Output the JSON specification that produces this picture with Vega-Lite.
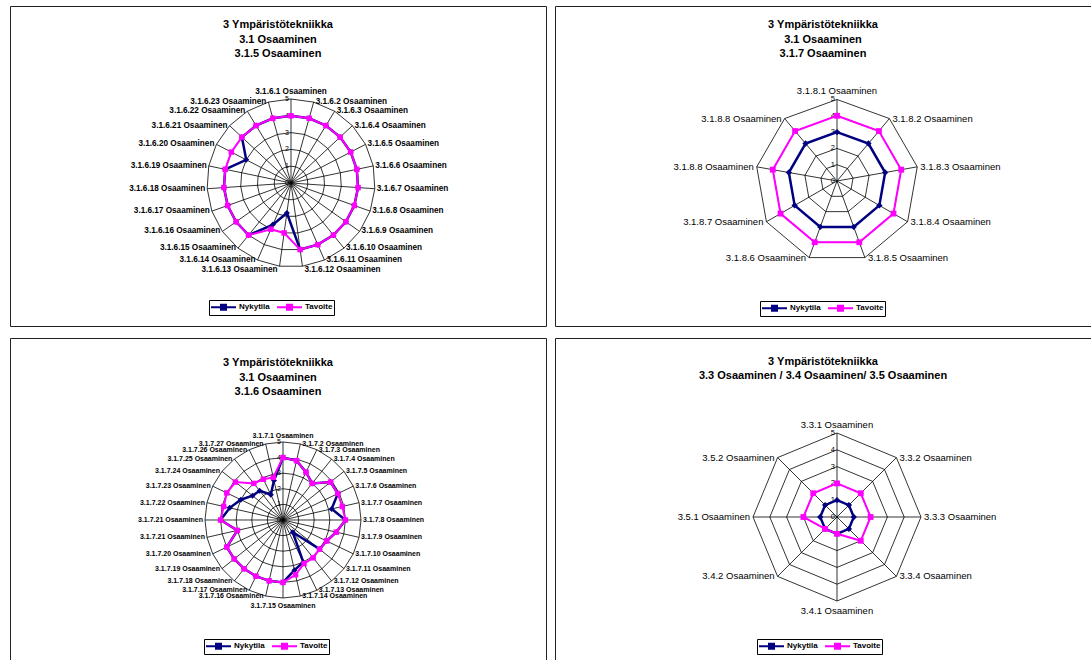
{
"$schema": "https://vega.github.io/schema/vega-lite/v6.json",
"background": "white",
"padding": {"left": 9, "top": 5, "right": 0, "bottom": 0},
"config": {
  "view": {"stroke": "#222", "strokeWidth": 1},
  "font": "Liberation Sans",
  "title": {"fontSize": 11, "fontWeight": "bold", "font": "Liberation Sans", "lineHeight": 14.5, "anchor": "middle", "frame": "group", "color": "black"},
  "legend": {"direction": "horizontal", "strokeColor": "black", "padding": 1, "symbolType": "M-1,0H4M1,-0.5H2V0.5H1Z", "symbolSize": 100, "symbolStrokeWidth": 2, "labelFontSize": 8, "labelFont": "Liberation Sans", "labelFontWeight": "bold", "labelColor": "black", "labelOffset": 17, "columnPadding": 3}
},
"datasets": {
  "g": [
    {"p": 1, "lv": [0,1,2,3,4,5], "i": [0,1,2,3,4,5,6,7,8,9,10,11,12,13,14,15,16,17,18,19,20,21,22]},
    {"p": 2, "lv": [0,1,2,3,4,5], "i": [0,1,2,3,4,5,6,7,8]},
    {"p": 3, "lv": [0,1,2,3,4,5], "i": [0,1,2,3,4,5,6,7,8,9,10,11,12,13,14,15,16,17,18,19,20,21,22,23,24,25,26,27]},
    {"p": 4, "lv": [0,1,2,3,4,5], "i": [0,1,2,3,4,5,6,7]}
  ],
  "r": [
    {"p":1,"i":0,"c":"3.1.6.1 Osaaminen","Nykytila":4,"Tavoite":4},
    {"p":1,"i":1,"c":"3.1.6.2 Osaaminen","Nykytila":4,"Tavoite":4},
    {"p":1,"i":2,"c":"3.1.6.3 Osaaminen","Nykytila":4,"Tavoite":4},
    {"p":1,"i":3,"c":"3.1.6.4 Osaaminen","Nykytila":4,"Tavoite":4},
    {"p":1,"i":4,"c":"3.1.6.5 Osaaminen","Nykytila":4,"Tavoite":4},
    {"p":1,"i":5,"c":"3.1.6.6 Osaaminen","Nykytila":4,"Tavoite":4},
    {"p":1,"i":6,"c":"3.1.6.7 Osaaminen","Nykytila":4,"Tavoite":4},
    {"p":1,"i":7,"c":"3.1.6.8 Osaaminen","Nykytila":4,"Tavoite":4},
    {"p":1,"i":8,"c":"3.1.6.9 Osaaminen","Nykytila":4,"Tavoite":4},
    {"p":1,"i":9,"c":"3.1.6.10 Osaaminen","Nykytila":4,"Tavoite":4},
    {"p":1,"i":10,"c":"3.1.6.11 Osaaminen","Nykytila":4,"Tavoite":4},
    {"p":1,"i":11,"c":"3.1.6.12 Osaaminen","Nykytila":4,"Tavoite":4},
    {"p":1,"i":12,"c":"3.1.6.13 Osaaminen","Nykytila":1.8,"Tavoite":3},
    {"p":1,"i":13,"c":"3.1.6.14 Osaaminen","Nykytila":2.7,"Tavoite":3},
    {"p":1,"i":14,"c":"3.1.6.15 Osaaminen","Nykytila":4,"Tavoite":4},
    {"p":1,"i":15,"c":"3.1.6.16 Osaaminen","Nykytila":4,"Tavoite":4},
    {"p":1,"i":16,"c":"3.1.6.17 Osaaminen","Nykytila":4,"Tavoite":4},
    {"p":1,"i":17,"c":"3.1.6.18 Osaaminen","Nykytila":4,"Tavoite":4},
    {"p":1,"i":18,"c":"3.1.6.19 Osaaminen","Nykytila":4,"Tavoite":4},
    {"p":1,"i":19,"c":"3.1.6.20 Osaaminen","Nykytila":3,"Tavoite":4},
    {"p":1,"i":20,"c":"3.1.6.21 Osaaminen","Nykytila":4,"Tavoite":4},
    {"p":1,"i":21,"c":"3.1.6.22 Osaaminen","Nykytila":4,"Tavoite":4},
    {"p":1,"i":22,"c":"3.1.6.23 Osaaminen","Nykytila":4,"Tavoite":4},
    {"p":2,"i":0,"c":"3.1.8.1 Osaaminen","Nykytila":3,"Tavoite":4},
    {"p":2,"i":1,"c":"3.1.8.2 Osaaminen","Nykytila":3,"Tavoite":4},
    {"p":2,"i":2,"c":"3.1.8.3 Osaaminen","Nykytila":3,"Tavoite":4},
    {"p":2,"i":3,"c":"3.1.8.4 Osaaminen","Nykytila":3,"Tavoite":4},
    {"p":2,"i":4,"c":"3.1.8.5 Osaaminen","Nykytila":3,"Tavoite":4},
    {"p":2,"i":5,"c":"3.1.8.6 Osaaminen","Nykytila":3,"Tavoite":4},
    {"p":2,"i":6,"c":"3.1.8.7 Osaaminen","Nykytila":3,"Tavoite":4},
    {"p":2,"i":7,"c":"3.1.8.8 Osaaminen","Nykytila":3,"Tavoite":4},
    {"p":2,"i":8,"c":"3.1.8.8 Osaaminen","Nykytila":3,"Tavoite":4},
    {"p":3,"i":0,"c":"3.1.7.1 Osaaminen","Nykytila":4,"Tavoite":4},
    {"p":3,"i":1,"c":"3.1.7.2 Osaaminen","Nykytila":3.9,"Tavoite":3.9},
    {"p":3,"i":2,"c":"3.1.7.3 Osaaminen","Nykytila":3.4,"Tavoite":3.4},
    {"p":3,"i":3,"c":"3.1.7.4 Osaaminen","Nykytila":3.0,"Tavoite":3.0},
    {"p":3,"i":4,"c":"3.1.7.5 Osaaminen","Nykytila":3.9,"Tavoite":3.9},
    {"p":3,"i":5,"c":"3.1.7.6 Osaaminen","Nykytila":3.9,"Tavoite":3.9},
    {"p":3,"i":6,"c":"3.1.7.7 Osaaminen","Nykytila":3.2,"Tavoite":3.9},
    {"p":3,"i":7,"c":"3.1.7.8 Osaaminen","Nykytila":4,"Tavoite":4},
    {"p":3,"i":8,"c":"3.1.7.9 Osaaminen","Nykytila":3.5,"Tavoite":3.5},
    {"p":3,"i":9,"c":"3.1.7.10 Osaaminen","Nykytila":3.1,"Tavoite":3.1},
    {"p":3,"i":10,"c":"3.1.7.11 Osaaminen","Nykytila":3.0,"Tavoite":3.0},
    {"p":3,"i":11,"c":"3.1.7.12 Osaaminen","Nykytila":1.0,"Tavoite":3.1},
    {"p":3,"i":12,"c":"3.1.7.13 Osaaminen","Nykytila":3.0,"Tavoite":3.1},
    {"p":3,"i":13,"c":"3.1.7.14 Osaaminen","Nykytila":3.3,"Tavoite":3.6},
    {"p":3,"i":14,"c":"3.1.7.15 Osaaminen","Nykytila":4,"Tavoite":4},
    {"p":3,"i":15,"c":"3.1.7.16 Osaaminen","Nykytila":4,"Tavoite":4},
    {"p":3,"i":16,"c":"3.1.7.17 Osaaminen","Nykytila":4,"Tavoite":4},
    {"p":3,"i":17,"c":"3.1.7.18 Osaaminen","Nykytila":4,"Tavoite":4},
    {"p":3,"i":18,"c":"3.1.7.19 Osaaminen","Nykytila":4,"Tavoite":4},
    {"p":3,"i":19,"c":"3.1.7.20 Osaaminen","Nykytila":4,"Tavoite":4},
    {"p":3,"i":20,"c":"3.1.7.21 Osaaminen","Nykytila":3.0,"Tavoite":3.0},
    {"p":3,"i":21,"c":"3.1.7.21 Osaaminen","Nykytila":4,"Tavoite":4},
    {"p":3,"i":22,"c":"3.1.7.22 Osaaminen","Nykytila":3.5,"Tavoite":3.9},
    {"p":3,"i":23,"c":"3.1.7.23 Osaaminen","Nykytila":3.0,"Tavoite":4},
    {"p":3,"i":24,"c":"3.1.7.24 Osaaminen","Nykytila":2.5,"Tavoite":3.9},
    {"p":3,"i":25,"c":"3.1.7.25 Osaaminen","Nykytila":2.4,"Tavoite":3.0},
    {"p":3,"i":26,"c":"3.1.7.26 Osaaminen","Nykytila":1.8,"Tavoite":2.9},
    {"p":3,"i":27,"c":"3.1.7.27 Osaaminen","Nykytila":2.6,"Tavoite":2.8},
    {"p":4,"i":0,"c":"3.3.1 Osaaminen","Nykytila":1,"Tavoite":2},
    {"p":4,"i":1,"c":"3.3.2 Osaaminen","Nykytila":1,"Tavoite":2},
    {"p":4,"i":2,"c":"3.3.3 Osaaminen","Nykytila":1,"Tavoite":2},
    {"p":4,"i":3,"c":"3.3.4 Osaaminen","Nykytila":1,"Tavoite":2},
    {"p":4,"i":4,"c":"3.4.1 Osaaminen","Nykytila":1,"Tavoite":1},
    {"p":4,"i":5,"c":"3.4.2 Osaaminen","Nykytila":1,"Tavoite":1},
    {"p":4,"i":6,"c":"3.5.1 Osaaminen","Nykytila":1,"Tavoite":2},
    {"p":4,"i":7,"c":"3.5.2 Osaaminen","Nykytila":1,"Tavoite":2}
  ]
},
"columns": 2,
"spacing": {"row": 10, "column": 7},
"resolve": {"scale": {"x": "independent", "y": "independent", "color": "independent"}, "legend": {"color": "independent"}},
"concat": [
{
 "width": 536, "height": 320,
 "title": {"text": ["3 Ympäristötekniikka", "3.1 Osaaminen", "3.1.5 Osaaminen"], "offset": -53},
 "encoding": {
  "x": {"field": "x", "type": "quantitative", "axis": null, "scale": {"domain": [-16.726, 15.179], "nice": false, "zero": false}},
  "y": {"field": "y", "type": "quantitative", "axis": null, "scale": {"domain": [-8.512, 10.536], "nice": false, "zero": false}}
 },
 "layer": [
  {"data": {"name": "g"},
   "transform": [{"filter": "datum.p == 1"}, {"calculate": "length(datum.i)", "as": "n"}, {"flatten": ["lv"]}, {"flatten": ["i"]}, {"calculate": "2 * PI * datum.i / datum.n", "as": "a"}, {"calculate": "datum.lv * sin(datum.a)", "as": "x"}, {"calculate": "datum.lv * cos(datum.a)", "as": "y"}],
   "layer": [
    {"mark": {"type": "line", "interpolate": "linear-closed", "color": "black", "strokeWidth": 0.8}, "encoding": {"detail": {"field": "lv", "type": "nominal"}, "order": {"field": "i", "type": "quantitative"}}},
    {"transform": [{"filter": "datum.i == 0"}], "mark": {"type": "text", "align": "right", "baseline": "middle", "dx": -2, "fontSize": 7, "color": "black"}, "encoding": {"text": {"field": "lv", "type": "nominal"}}}
   ]},
  {"data": {"name": "r"},
   "transform": [{"filter": "datum.p == 1"}, {"joinaggregate": [{"op": "count", "as": "n"}]}, {"calculate": "2 * PI * datum.i / datum.n", "as": "a"}, {"calculate": "sin(datum.a)", "as": "sx"}, {"calculate": "cos(datum.a)", "as": "cx"}, {"calculate": "5 * datum.sx", "as": "x"}, {"calculate": "5 * datum.cx", "as": "y"}],
   "layer": [
    {"mark": {"type": "rule", "color": "black", "strokeWidth": 0.8}, "encoding": {"x2": {"datum": 0}, "y2": {"datum": 0}}},
    {"mark": {"type": "text", "fontSize": 8.2, "fontWeight": "bold", "color": "black",
       "align": {"expr": "datum.sx > 0.1 ? 'left' : datum.sx < -0.1 ? 'right' : 'center'"},
       "baseline": {"expr": "abs(datum.sx) <= 0.1 ? (datum.cx > 0 ? 'bottom' : 'top') : 'middle'"},
       "dx": {"expr": "datum.sx > 0.1 ? 2 : datum.sx < -0.1 ? -2 : 0"},
       "dy": {"expr": "abs(datum.sx) <= 0.1 ? (datum.cx > 0 ? -3 : 4) : (datum.cx < -0.95 ? 4 : 0)"}},
     "encoding": {"text": {"field": "c", "type": "nominal"}}},
    {"transform": [{"fold": ["Nykytila", "Tavoite"], "as": ["s", "v"]}, {"calculate": "datum.v * datum.sx", "as": "x"}, {"calculate": "datum.v * datum.cx", "as": "y"}],
     "encoding": {"color": {"field": "s", "type": "nominal", "scale": {"domain": ["Nykytila", "Tavoite"], "range": ["#000080", "#FF00FF"]}, "legend": null}, "order": {"field": "i", "type": "quantitative"}},
     "layer": [
      {"transform": [{"filter": "datum.s == 'Nykytila'"}], "mark": {"type": "line", "interpolate": "linear-closed", "strokeWidth": 2.5},
       "encoding": {"color": {"field": "s", "type": "nominal", "scale": {"domain": ["Nykytila", "Tavoite"], "range": ["#000080", "#FF00FF"]}, "legend": {"title": null, "orient": "none", "legendX": 199, "legendY": 294}}}},
      {"transform": [{"filter": "datum.s == 'Nykytila'"}], "mark": {"type": "point", "shape": "diamond", "filled": true, "size": 36, "opacity": 1}},
      {"transform": [{"filter": "datum.s == 'Tavoite'"}], "mark": {"type": "line", "interpolate": "linear-closed", "strokeWidth": 2}},
      {"transform": [{"filter": "datum.s == 'Tavoite'"}], "mark": {"type": "point", "shape": "square", "filled": true, "size": 30, "opacity": 1}}
     ]}
   ]}
 ]
},
{
 "width": 536, "height": 320,
 "title": {"text": ["3 Ympäristötekniikka", "3.1 Osaaminen", "3.1.7 Osaaminen"], "offset": -53},
 "encoding": {
  "x": {"field": "x", "type": "quantitative", "axis": null, "scale": {"domain": [-17.301, 15.583], "nice": false, "zero": false}},
  "y": {"field": "y", "type": "quantitative", "axis": null, "scale": {"domain": [-8.896, 10.736], "nice": false, "zero": false}}
 },
 "layer": [
  {"data": {"name": "g"},
   "transform": [{"filter": "datum.p == 2"}, {"calculate": "length(datum.i)", "as": "n"}, {"flatten": ["lv"]}, {"flatten": ["i"]}, {"calculate": "2 * PI * datum.i / datum.n", "as": "a"}, {"calculate": "datum.lv * sin(datum.a)", "as": "x"}, {"calculate": "datum.lv * cos(datum.a)", "as": "y"}],
   "layer": [
    {"mark": {"type": "line", "interpolate": "linear-closed", "color": "black", "strokeWidth": 0.8}, "encoding": {"detail": {"field": "lv", "type": "nominal"}, "order": {"field": "i", "type": "quantitative"}}},
    {"transform": [{"filter": "datum.i == 0"}], "mark": {"type": "text", "align": "right", "baseline": "middle", "dx": -2, "fontSize": 7.5, "color": "black"}, "encoding": {"text": {"field": "lv", "type": "nominal"}}}
   ]},
  {"data": {"name": "r"},
   "transform": [{"filter": "datum.p == 2"}, {"joinaggregate": [{"op": "count", "as": "n"}]}, {"calculate": "2 * PI * datum.i / datum.n", "as": "a"}, {"calculate": "sin(datum.a)", "as": "sx"}, {"calculate": "cos(datum.a)", "as": "cx"}, {"calculate": "5 * datum.sx", "as": "x"}, {"calculate": "5 * datum.cx", "as": "y"}],
   "layer": [
    {"mark": {"type": "rule", "color": "black", "strokeWidth": 0.8}, "encoding": {"x2": {"datum": 0}, "y2": {"datum": 0}}},
    {"mark": {"type": "text", "fontSize": 9.5, "color": "black",
       "align": {"expr": "datum.sx > 0.1 ? 'left' : datum.sx < -0.1 ? 'right' : 'center'"},
       "baseline": {"expr": "abs(datum.sx) <= 0.1 ? (datum.cx > 0 ? 'bottom' : 'top') : 'middle'"},
       "dx": {"expr": "datum.sx > 0.1 ? 3 : datum.sx < -0.1 ? -3 : 0"},
       "dy": {"expr": "abs(datum.sx) <= 0.1 ? (datum.cx > 0 ? -3 : 4) : 0"}},
     "encoding": {"text": {"field": "c", "type": "nominal"}}},
    {"transform": [{"fold": ["Nykytila", "Tavoite"], "as": ["s", "v"]}, {"calculate": "datum.v * datum.sx", "as": "x"}, {"calculate": "datum.v * datum.cx", "as": "y"}],
     "encoding": {"color": {"field": "s", "type": "nominal", "scale": {"domain": ["Nykytila", "Tavoite"], "range": ["#000080", "#FF00FF"]}, "legend": null}, "order": {"field": "i", "type": "quantitative"}},
     "layer": [
      {"transform": [{"filter": "datum.s == 'Nykytila'"}], "mark": {"type": "line", "interpolate": "linear-closed", "strokeWidth": 2.5},
       "encoding": {"color": {"field": "s", "type": "nominal", "scale": {"domain": ["Nykytila", "Tavoite"], "range": ["#000080", "#FF00FF"]}, "legend": {"title": null, "orient": "none", "legendX": 205, "legendY": 295}}}},
      {"transform": [{"filter": "datum.s == 'Nykytila'"}], "mark": {"type": "point", "shape": "diamond", "filled": true, "size": 40, "opacity": 1}},
      {"transform": [{"filter": "datum.s == 'Tavoite'"}], "mark": {"type": "line", "interpolate": "linear-closed", "strokeWidth": 2}},
      {"transform": [{"filter": "datum.s == 'Tavoite'"}], "mark": {"type": "point", "shape": "square", "filled": true, "size": 34, "opacity": 1}}
     ]}
   ]}
 ]
},
{
 "width": 536, "height": 324,
 "title": {"text": ["3 Ympäristötekniikka", "3.1 Osaaminen", "3.1.6 Osaaminen"], "offset": -59},
 "encoding": {
  "x": {"field": "x", "type": "quantitative", "axis": null, "scale": {"domain": [-17.5, 16.859], "nice": false, "zero": false}},
  "y": {"field": "y", "type": "quantitative", "axis": null, "scale": {"domain": [-9.103, 11.667], "nice": false, "zero": false}}
 },
 "layer": [
  {"data": {"name": "g"},
   "transform": [{"filter": "datum.p == 3"}, {"calculate": "length(datum.i)", "as": "n"}, {"flatten": ["lv"]}, {"flatten": ["i"]}, {"calculate": "2 * PI * datum.i / datum.n", "as": "a"}, {"calculate": "datum.lv * sin(datum.a)", "as": "x"}, {"calculate": "datum.lv * cos(datum.a)", "as": "y"}],
   "layer": [
    {"mark": {"type": "line", "interpolate": "linear-closed", "color": "black", "strokeWidth": 0.8}, "encoding": {"detail": {"field": "lv", "type": "nominal"}, "order": {"field": "i", "type": "quantitative"}}},
    {"transform": [{"filter": "datum.i == 0"}], "mark": {"type": "text", "align": "right", "baseline": "middle", "dx": -2, "fontSize": 7, "color": "black"}, "encoding": {"text": {"field": "lv", "type": "nominal"}}}
   ]},
  {"data": {"name": "r"},
   "transform": [{"filter": "datum.p == 3"}, {"joinaggregate": [{"op": "count", "as": "n"}]}, {"calculate": "2 * PI * datum.i / datum.n", "as": "a"}, {"calculate": "sin(datum.a)", "as": "sx"}, {"calculate": "cos(datum.a)", "as": "cx"}, {"calculate": "5 * datum.sx", "as": "x"}, {"calculate": "5 * datum.cx", "as": "y"}],
   "layer": [
    {"mark": {"type": "rule", "color": "black", "strokeWidth": 0.8}, "encoding": {"x2": {"datum": 0}, "y2": {"datum": 0}}},
    {"mark": {"type": "text", "fontSize": 7, "fontWeight": "bold", "color": "black",
       "align": {"expr": "datum.sx > 0.1 ? 'left' : datum.sx < -0.1 ? 'right' : 'center'"},
       "baseline": {"expr": "abs(datum.sx) <= 0.1 ? (datum.cx > 0 ? 'bottom' : 'top') : 'middle'"},
       "dx": {"expr": "datum.sx > 0.1 ? 2 : datum.sx < -0.1 ? -2 : 0"},
       "dy": {"expr": "abs(datum.sx) <= 0.1 ? (datum.cx > 0 ? -3 : 4) : 0"}},
     "encoding": {"text": {"field": "c", "type": "nominal"}}},
    {"transform": [{"fold": ["Nykytila", "Tavoite"], "as": ["s", "v"]}, {"calculate": "datum.v * datum.sx", "as": "x"}, {"calculate": "datum.v * datum.cx", "as": "y"}],
     "encoding": {"color": {"field": "s", "type": "nominal", "scale": {"domain": ["Nykytila", "Tavoite"], "range": ["#000080", "#FF00FF"]}, "legend": null}, "order": {"field": "i", "type": "quantitative"}},
     "layer": [
      {"transform": [{"filter": "datum.s == 'Nykytila'"}], "mark": {"type": "line", "interpolate": "linear-closed", "strokeWidth": 2.5},
       "encoding": {"color": {"field": "s", "type": "nominal", "scale": {"domain": ["Nykytila", "Tavoite"], "range": ["#000080", "#FF00FF"]}, "legend": {"title": null, "orient": "none", "legendX": 194, "legendY": 301}}}},
      {"transform": [{"filter": "datum.s == 'Nykytila'"}], "mark": {"type": "point", "shape": "diamond", "filled": true, "size": 36, "opacity": 1}},
      {"transform": [{"filter": "datum.s == 'Tavoite'"}], "mark": {"type": "line", "interpolate": "linear-closed", "strokeWidth": 2}},
      {"transform": [{"filter": "datum.s == 'Tavoite'"}], "mark": {"type": "point", "shape": "square", "filled": true, "size": 30, "opacity": 1}}
     ]}
   ]}
 ]
},
{
 "width": 536, "height": 324,
 "title": {"text": ["3 Ympäristötekniikka", "3.3 Osaaminen / 3.4 Osaaminen/ 3.5 Osaaminen"], "offset": -43},
 "encoding": {
  "x": {"field": "x", "type": "quantitative", "axis": null, "scale": {"domain": [-16.786, 15.119], "nice": false, "zero": false}},
  "y": {"field": "y", "type": "quantitative", "axis": null, "scale": {"domain": [-8.631, 10.655], "nice": false, "zero": false}}
 },
 "layer": [
  {"data": {"name": "g"},
   "transform": [{"filter": "datum.p == 4"}, {"calculate": "length(datum.i)", "as": "n"}, {"flatten": ["lv"]}, {"flatten": ["i"]}, {"calculate": "2 * PI * datum.i / datum.n", "as": "a"}, {"calculate": "datum.lv * sin(datum.a)", "as": "x"}, {"calculate": "datum.lv * cos(datum.a)", "as": "y"}],
   "layer": [
    {"mark": {"type": "line", "interpolate": "linear-closed", "color": "black", "strokeWidth": 0.8}, "encoding": {"detail": {"field": "lv", "type": "nominal"}, "order": {"field": "i", "type": "quantitative"}}},
    {"transform": [{"filter": "datum.i == 0"}], "mark": {"type": "text", "align": "right", "baseline": "middle", "dx": -2, "fontSize": 7.5, "color": "black"}, "encoding": {"text": {"field": "lv", "type": "nominal"}}}
   ]},
  {"data": {"name": "r"},
   "transform": [{"filter": "datum.p == 4"}, {"joinaggregate": [{"op": "count", "as": "n"}]}, {"calculate": "2 * PI * datum.i / datum.n", "as": "a"}, {"calculate": "sin(datum.a)", "as": "sx"}, {"calculate": "cos(datum.a)", "as": "cx"}, {"calculate": "5 * datum.sx", "as": "x"}, {"calculate": "5 * datum.cx", "as": "y"}],
   "layer": [
    {"mark": {"type": "rule", "color": "black", "strokeWidth": 0.8}, "encoding": {"x2": {"datum": 0}, "y2": {"datum": 0}}},
    {"mark": {"type": "text", "fontSize": 9.5, "color": "black",
       "align": {"expr": "datum.sx > 0.1 ? 'left' : datum.sx < -0.1 ? 'right' : 'center'"},
       "baseline": {"expr": "abs(datum.sx) <= 0.1 ? (datum.cx > 0 ? 'bottom' : 'top') : 'middle'"},
       "dx": {"expr": "datum.sx > 0.1 ? 3 : datum.sx < -0.1 ? -3 : 0"},
       "dy": {"expr": "abs(datum.sx) <= 0.1 ? (datum.cx > 0 ? -3 : 5) : 0"}},
     "encoding": {"text": {"field": "c", "type": "nominal"}}},
    {"transform": [{"fold": ["Nykytila", "Tavoite"], "as": ["s", "v"]}, {"calculate": "datum.v * datum.sx", "as": "x"}, {"calculate": "datum.v * datum.cx", "as": "y"}],
     "encoding": {"color": {"field": "s", "type": "nominal", "scale": {"domain": ["Nykytila", "Tavoite"], "range": ["#000080", "#FF00FF"]}, "legend": null}, "order": {"field": "i", "type": "quantitative"}},
     "layer": [
      {"transform": [{"filter": "datum.s == 'Nykytila'"}], "mark": {"type": "line", "interpolate": "linear-closed", "strokeWidth": 2.5},
       "encoding": {"color": {"field": "s", "type": "nominal", "scale": {"domain": ["Nykytila", "Tavoite"], "range": ["#000080", "#FF00FF"]}, "legend": {"title": null, "orient": "none", "legendX": 202, "legendY": 301}}}},
      {"transform": [{"filter": "datum.s == 'Nykytila'"}], "mark": {"type": "point", "shape": "diamond", "filled": true, "size": 40, "opacity": 1}},
      {"transform": [{"filter": "datum.s == 'Tavoite'"}], "mark": {"type": "line", "interpolate": "linear-closed", "strokeWidth": 2}},
      {"transform": [{"filter": "datum.s == 'Tavoite'"}], "mark": {"type": "point", "shape": "square", "filled": true, "size": 34, "opacity": 1}}
     ]}
   ]}
 ]
}
]
}
